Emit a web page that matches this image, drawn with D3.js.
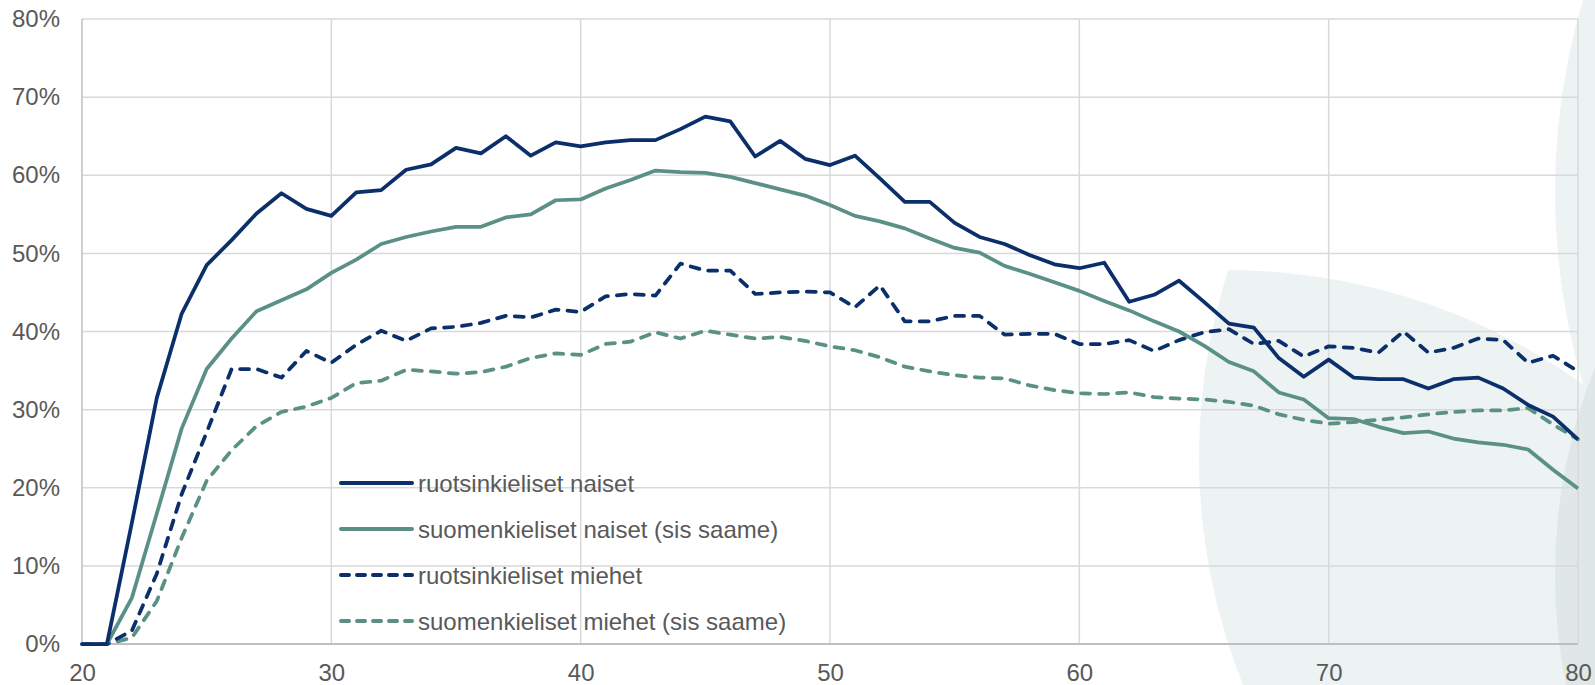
<!DOCTYPE html>
<html>
<head>
<meta charset="utf-8">
<script src="https://cdn.jsdelivr.net/npm/d3@7"></script>
<style>
    body { margin: 0; background: #fff; }
    #chart { width: 1595px; height: 685px; }
    text { font-family: "Liberation Sans", Arial, sans-serif; fill: #595959; }
</style>
</head>
<body>
<div id="chart"></div>
<script>
// ages 20..80
var ages = d3.range(20, 81);

var ruotsiNaiset = [
    0, 0, 15.5, 31.5, 42.3, 48.5, 51.7, 55.1, 57.7, 55.7,
    54.8, 57.8, 58.1, 60.7, 61.4, 63.5, 62.8, 65.0, 62.5, 64.2,
    63.7, 64.2, 64.5, 64.5, 65.9, 67.5, 66.9, 62.4, 64.4, 62.1,
    61.3, 62.5, 59.6, 56.6, 56.6, 53.9, 52.1, 51.2, 49.8, 48.6,
    48.1, 48.8, 43.8, 44.7, 46.5, 43.8, 41.0, 40.5, 36.6, 34.2,
    36.4, 34.1, 33.9, 33.9, 32.7, 33.9, 34.1, 32.7, 30.6, 29.1,
    26.2
];
var suomiNaiset = [
    0, 0, 5.9, 16.7, 27.6, 35.2, 39.1, 42.6, 44.0, 45.4,
    47.5, 49.2, 51.2, 52.1, 52.8, 53.4, 53.4, 54.6, 55.0, 56.8,
    56.9, 58.3, 59.4, 60.6, 60.4, 60.3, 59.8, 59.0, 58.2, 57.4,
    56.2, 54.8, 54.1, 53.2, 51.9, 50.7, 50.1, 48.4, 47.4, 46.3,
    45.2, 43.9, 42.7, 41.3, 40.0, 38.2, 36.1, 34.9, 32.2, 31.3,
    28.9, 28.8, 27.8, 27.0, 27.2, 26.3, 25.8, 25.5, 24.9, 22.3,
    19.9
];
var ruotsiMiehet = [
    0, 0, 1.7, 9.0, 19.2, 27.1, 35.2, 35.2, 34.1, 37.5,
    36.0, 38.3, 40.1, 38.8, 40.4, 40.6, 41.1, 42.0, 41.8, 42.8,
    42.5, 44.5, 44.8, 44.6, 48.7, 47.8, 47.8, 44.8, 45.0, 45.1,
    45.0, 43.1, 45.9, 41.3, 41.3, 42.0, 42.0, 39.6, 39.7, 39.7,
    38.4, 38.4, 38.9, 37.5, 38.9, 39.9, 40.3, 38.4, 38.8, 36.8,
    38.1, 37.9, 37.3, 40.0, 37.3, 37.9, 39.1, 38.9, 36.0, 36.9,
    34.9
];
var suomiMiehet = [
    0, 0, 0.8, 5.5, 13.6, 20.9, 24.8, 27.9, 29.7, 30.4,
    31.5, 33.4, 33.7, 35.1, 34.9, 34.6, 34.8, 35.5, 36.6, 37.2,
    37.0, 38.4, 38.7, 39.9, 39.1, 40.1, 39.6, 39.1, 39.3, 38.8,
    38.1, 37.6, 36.7, 35.5, 34.9, 34.4, 34.1, 34.0, 33.1, 32.5,
    32.1, 32.0, 32.2, 31.6, 31.4, 31.3, 31.0, 30.5, 29.4, 28.7,
    28.2, 28.4, 28.7, 29.0, 29.4, 29.7, 29.9, 29.9, 30.2, 28.1,
    26.2
];

var seriesNames = [
    "ruotsinkieliset naiset",
    "suomenkieliset naiset (sis saame)",
    "ruotsinkieliset miehet",
    "suomenkieliset miehet (sis saame)"
];
var xTicks = [20, 30, 40, 50, 60, 70, 80];
var yTicks = [0, 10, 20, 30, 40, 50, 60, 70, 80];

var navy = "#0b2f6b",
    teal = "#5b9086";

var series = [
    {name: seriesNames[0], values: ruotsiNaiset, color: navy, dash: null},
    {name: seriesNames[1], values: suomiNaiset, color: teal, dash: null},
    {name: seriesNames[2], values: ruotsiMiehet, color: navy, dash: "9,9"},
    {name: seriesNames[3], values: suomiMiehet, color: teal, dash: "9,9"}
];

var width = 1595,
    height = 685,
    margin = {top: 19, right: 17, bottom: 41, left: 82};

var svg = d3.select("#chart").append("svg")
    .attr("width", width)
    .attr("height", height);

var x = d3.scaleLinear()
    .domain([20, 80])
    .range([margin.left, width - margin.right]);
var y = d3.scaleLinear()
    .domain([0, 80])
    .range([height - margin.bottom, margin.top]);

// decorative background circles
var defs = svg.append("defs");
defs.append("clipPath").attr("id", "lensclip")
    .append("circle").attr("cx", 1227).attr("cy", 882).attr("r", 612);
svg.append("circle")
    .attr("cx", 1811).attr("cy", 457).attr("r", 612)
    .attr("fill", "#edf2f2")
    .attr("clip-path", "url(#lensclip)");
svg.append("circle")
    .attr("cx", 2226).attr("cy", 192).attr("r", 671)
    .attr("fill", "#edf2f2");
svg.append("circle")
    .attr("cx", 2116).attr("cy", 575).attr("r", 561)
    .attr("fill", "#e0e8e7");

// grid
svg.append("g").selectAll("line")
    .data(yTicks.filter(function(d) { return d > 0; }))
    .enter().append("line")
        .attr("x1", x(20)).attr("x2", x(80))
        .attr("y1", function(d) { return y(d); })
        .attr("y2", function(d) { return y(d); })
        .attr("stroke", "#d9d9d9")
        .attr("stroke-width", 1.5);
svg.append("g").selectAll("line")
    .data(xTicks.filter(function(d) { return d > 20; }))
    .enter().append("line")
        .attr("x1", function(d) { return x(d); })
        .attr("x2", function(d) { return x(d); })
        .attr("y1", y(80)).attr("y2", y(0))
        .attr("stroke", "#d9d9d9")
        .attr("stroke-width", 1.5);

// axes
var yAxis = svg.append("g")
    .attr("transform", "translate(" + x(20) + ",0)")
    .call(d3.axisLeft(y).tickValues(yTicks).tickSize(0).tickPadding(22)
        .tickFormat(function(d) { return d + "%"; }));
var xAxis = svg.append("g")
    .attr("transform", "translate(0," + y(0) + ")")
    .call(d3.axisBottom(x).tickValues(xTicks).tickSize(0).tickPadding(20));
[xAxis, yAxis].forEach(function(a) {
    a.selectAll("text").attr("font-size", "24px").style("font-family", null).attr("font-family", null);
    a.select(".domain").remove();
});
svg.append("line")
    .attr("x1", x(20)).attr("x2", x(20))
    .attr("y1", y(80)).attr("y2", y(0))
    .attr("stroke", "#bfbfbf").attr("stroke-width", 1.5);
svg.append("line")
    .attr("x1", x(20)).attr("x2", x(80))
    .attr("y1", y(0)).attr("y2", y(0))
    .attr("stroke", "#bfbfbf").attr("stroke-width", 2);

// lines
var linefun = d3.line()
    .x(function(d, i) { return x(ages[i]); })
    .y(function(d) { return y(d); });

svg.append("g").selectAll("path")
    .data(series.slice().reverse())
    .enter().append("path")
        .attr("d", function(d) { return linefun(d.values); })
        .attr("fill", "none")
        .attr("stroke", function(d) { return d.color; })
        .attr("stroke-width", 3.75)
        .attr("stroke-linejoin", "round")
        .attr("stroke-linecap", function(d) { return d.dash ? "round" : "butt"; })
        .attr("stroke-dasharray", function(d) { return d.dash; });

// legend
var legend = svg.append("g").selectAll("g")
    .data(series)
    .enter().append("g")
        .attr("transform", function(d, i) { return "translate(341," + (483 + i * 46) + ")"; });
legend.append("line")
    .attr("x1", 0).attr("x2", 71)
    .attr("stroke", function(d) { return d.color; })
    .attr("stroke-width", 4)
    .attr("stroke-linecap", "round")
    .attr("stroke-dasharray", function(d) { return d.dash ? "8,8" : null; });
legend.append("text")
    .attr("x", 77)
    .attr("y", 8.5)
    .attr("font-size", "24px")
    .text(function(d) { return d.name; });
</script>
</body>
</html>
